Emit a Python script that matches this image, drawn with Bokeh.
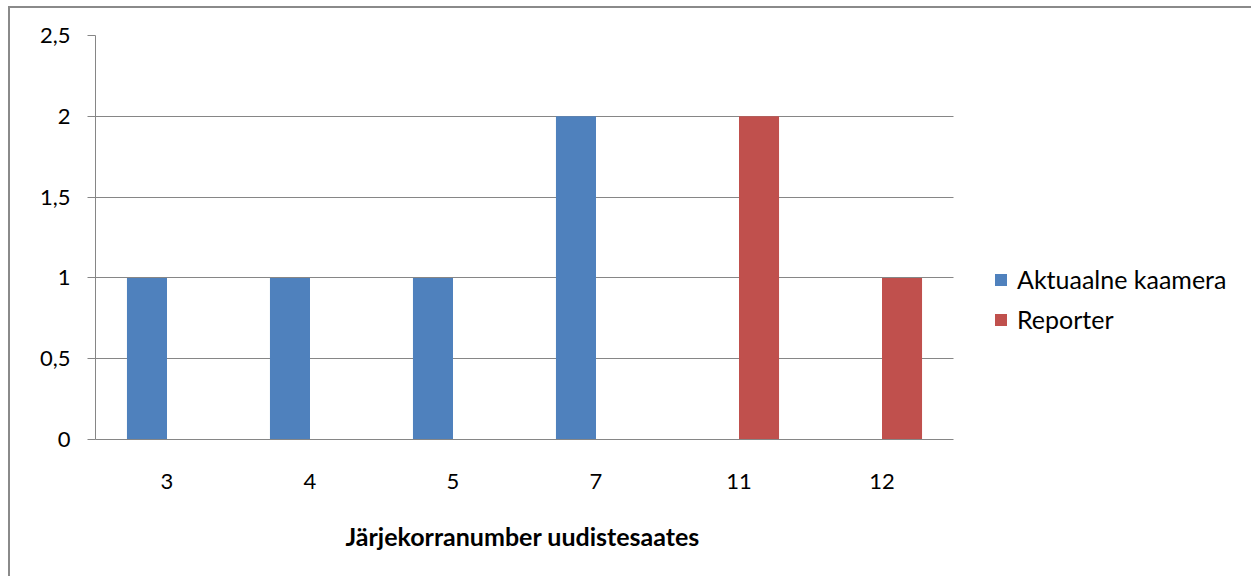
from bokeh.plotting import figure
from bokeh.models import (ColumnDataSource, Range1d, FixedTicker, Title,
                          CustomJSTickFormatter, Legend, LegendItem)
from bokeh.transform import dodge
from bokeh.embed import file_html
from bokeh.resources import INLINE

categories = ["3", "4", "5", "7", "11", "12"]
aktuaalne = [1, 1, 1, 2, 0, 0]
reporter = [0, 0, 0, 0, 2, 1]
series_names = ["Aktuaalne kaamera", "Reporter"]
y_ticks = [0, 0.5, 1, 1.5, 2, 2.5]
x_title = "Järjekorranumber uudistesaates"

FONT = "Lato"
GRAY = "#868686"

n = len(categories)
xpos = [i + 0.5 for i in range(n)]
src = ColumnDataSource(dict(x=xpos, cat=categories, a=aktuaalne, r=reporter))

W, H = 1243, 570
ML, MR, MT, MB = 85, 5, 27, 139
frame_w = W - ML - MR
cat_px = 143.0
x_end = frame_w / cat_px

p = figure(x_range=Range1d(0, x_end), y_range=Range1d(0, 2.5),
           width=W, height=H, output_backend="svg", toolbar_location=None,
           min_border_left=ML, min_border_right=MR, min_border_top=MT,
           min_border_bottom=MB)
p.styles = {"margin-left": "8px", "margin-top": "6px",
            "border-left": "2px solid #8a8a8a", "border-top": "2px solid #8a8a8a"}
p.outline_line_color = None
p.background_fill_color = "white"
p.border_fill_color = "white"

r1 = p.vbar(x=dodge("x", -0.14), top="a", width=0.28,
            source=src, fill_color="#4F81BD", line_color=None)
r2 = p.vbar(x=dodge("x", 0.14), top="r", width=0.28,
            source=src, fill_color="#C0504D", line_color=None)

# grid
p.xgrid.grid_line_color = None
p.ygrid.grid_line_color = GRAY
p.ygrid.grid_line_width = 1
p.ygrid.ticker = FixedTicker(ticks=y_ticks)
p.ygrid.cross_bounds = (0, n)

# y axis
p.yaxis.ticker = FixedTicker(ticks=y_ticks)
p.yaxis.formatter = CustomJSTickFormatter(code="return tick.toString().replace('.', ',');")
p.yaxis.axis_line_color = GRAY
p.yaxis.major_tick_line_color = GRAY
p.yaxis.major_tick_out = 8
p.yaxis.major_tick_in = 0
p.yaxis.minor_tick_line_color = None
p.yaxis.major_label_text_font = FONT
p.yaxis.major_label_text_font_size = "22px"
p.yaxis.major_label_text_color = "black"
p.yaxis.major_label_standoff = 17

# x axis
p.xaxis.bounds = (0, n)
p.xaxis.ticker = FixedTicker(ticks=xpos)
p.xaxis.formatter = CustomJSTickFormatter(args=dict(cats=categories),
                                          code="return cats[Math.round(tick - 0.5)];")
p.xaxis.axis_line_color = GRAY
p.xaxis.major_tick_line_color = None
p.xaxis.major_tick_out = 0
p.xaxis.major_tick_in = 0
p.xaxis.minor_tick_line_color = None
p.xaxis.major_label_text_font = FONT
p.xaxis.major_label_text_font_size = "22px"
p.xaxis.major_label_text_color = "black"
p.xaxis.major_label_standoff = 34

# axis title (centred under the category area, not the whole frame)
p.add_layout(Title(text=x_title, align="left", offset=250, standoff=54,
                   text_font=FONT, text_font_size="25px", text_font_style="bold",
                   text_color="black"), "below")

legend = Legend(items=[LegendItem(label=series_names[0], renderers=[r1]),
                       LegendItem(label=series_names[1], renderers=[r2])],
                location=(898, 105), orientation="vertical")
legend.border_line_color = None
legend.background_fill_alpha = 0
legend.padding = 0
legend.margin = 0
legend.glyph_width = 15
legend.glyph_height = 15
legend.label_height = 30
legend.spacing = 10
legend.label_standoff = 9
legend.label_text_font = FONT
legend.label_text_font_size = "25px"
legend.label_text_color = "black"
legend.label_text_baseline = "middle"
p.add_layout(legend, "center")

open("out.html", "w").write(file_html(p, INLINE))
